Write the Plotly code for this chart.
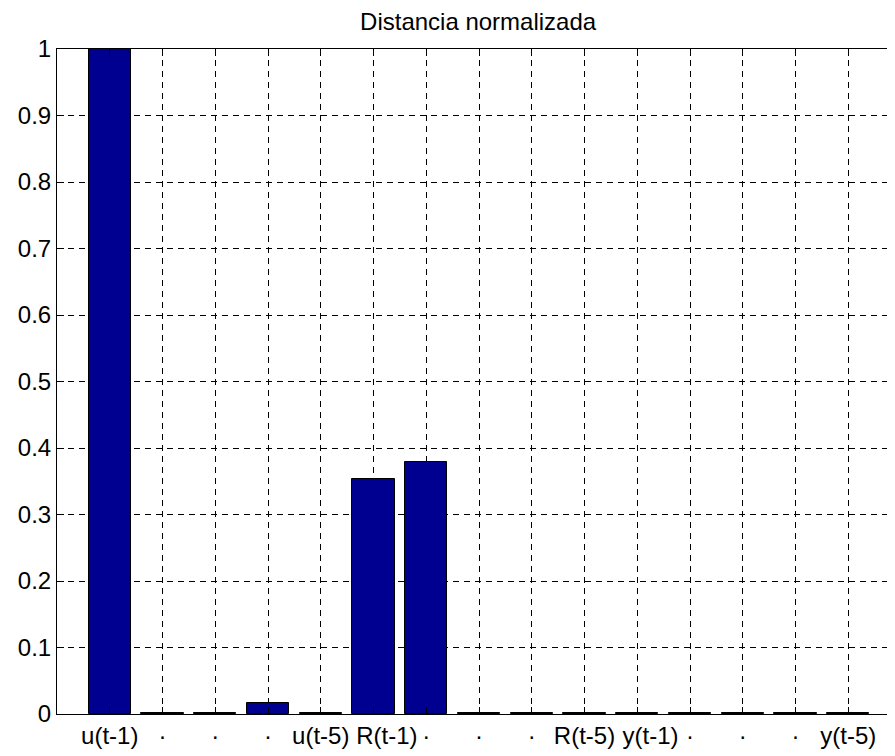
import plotly.graph_objects as go

# regressor labels and normalized distances
positions = list(range(1, 16))
pad = '\u00a0' * 4  # MATLAB nudged these two labels right to clear the neighbour
labels = ['u(t-1)', '·', '·', '·', 'u(t-5)',
          pad + 'R(t-1)', '·', '·', '·', 'R(t-5)',
          pad + 'y(t-1)', '·', '·', '·', 'y(t-5)']
distances = [1.0, 0.002, 0.002, 0.016, 0.002,
             0.353, 0.379, 0.002, 0.002, 0.002,
             0.002, 0.002, 0.002, 0.002, 0.002]
y_ticks = [0, 0.1, 0.2, 0.3, 0.4, 0.5, 0.6, 0.7, 0.8, 0.9, 1]
y_ticktext = ['0', '0.1', '0.2', '0.3', '0.4', '0.5', '0.6', '0.7', '0.8', '0.9', '1']

font = dict(family='Liberation Sans, Arial, sans-serif', size=24, color='black')

bars = go.Bar(
    x=positions,
    y=distances,
    width=0.8,
    marker=dict(color='#000090', line=dict(color='black', width=1)),
    showlegend=False)

# page body has an 8px margin, so the figure is drawn 8px smaller
fig = go.Figure(data=[bars])
fig.update_layout(
    width=887, height=748,
    margin=dict(l=49, r=0, t=41, b=42, autoexpand=False),
    paper_bgcolor='white', plot_bgcolor='white',
    font=font,
    title=dict(text='Distancia normalizada', x=0.530, xanchor='center',
               y=1 - 14 / 748, yanchor='middle', font=dict(size=24)),
    bargap=0)
fig.update_xaxes(
    range=[0, 15.886], tickmode='array', tickvals=positions, ticktext=labels,
    tickangle=0, automargin=False,
    showline=True, linecolor='black', linewidth=1, mirror='ticks',
    ticks='inside', ticklen=7, tickcolor='black',
    showgrid=True, gridcolor='black', gridwidth=1, griddash='6px,5px',
    zeroline=False)
fig.update_yaxes(
    range=[0, 1], tickmode='array', tickvals=y_ticks, ticktext=y_ticktext,
    automargin=False,
    showline=True, linecolor='black', linewidth=1, mirror=False,
    ticks='inside', ticklen=7, tickcolor='black',
    showgrid=True, gridcolor='black', gridwidth=1, griddash='6px,5px',
    zeroline=False)

fig.write_html("out.html")
